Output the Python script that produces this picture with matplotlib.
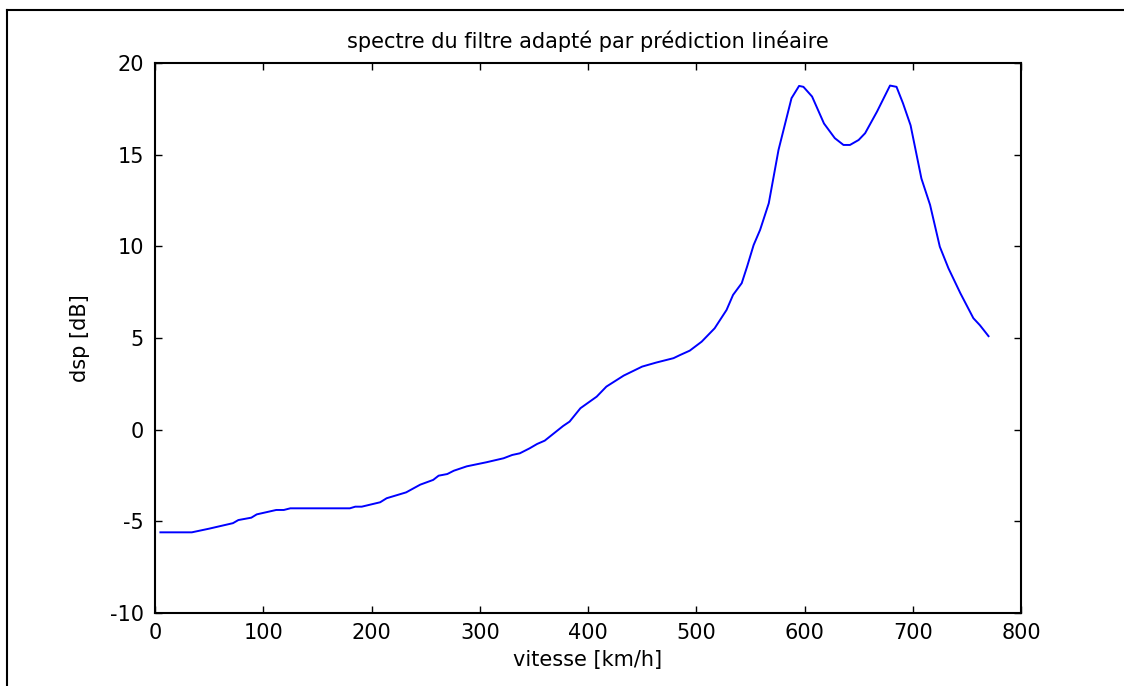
import matplotlib
matplotlib.use("Agg")
import matplotlib.pyplot as plt
from matplotlib.lines import Line2D

vitesse = [5, 34, 50, 72, 77, 89, 94, 112, 119, 125, 180, 185, 191, 208, 214, 232, 245,
           257, 262, 270, 276, 288, 306, 322, 330, 337, 346, 353, 360, 377, 383, 393,
           408, 417, 433, 450, 463, 479, 485, 494, 505, 517, 528, 534, 542, 547, 553,
           559, 567, 576, 588, 595, 599, 607, 618, 628, 636, 642, 650, 656, 667, 679,
           685, 691, 698, 708, 716, 725, 733, 744, 756, 762, 770]
dsp = [-5.6, -5.6, -5.4, -5.1, -4.93, -4.8, -4.62, -4.38, -4.38, -4.29, -4.29, -4.2, -4.2,
       -3.96, -3.74, -3.42, -3.0, -2.74, -2.51, -2.42, -2.24, -2.0, -1.78, -1.56, -1.38,
       -1.29, -1.02, -0.78, -0.6, 0.2, 0.44, 1.17, 1.8, 2.35, 2.95, 3.44, 3.66, 3.9,
       4.07, 4.31, 4.8, 5.53, 6.53, 7.35, 7.99, 8.9, 10.07, 10.9, 12.35, 15.26, 18.08,
       18.75, 18.7, 18.17, 16.7, 15.9, 15.53, 15.53, 15.8, 16.17, 17.35, 18.77, 18.7,
       17.8, 16.6, 13.7, 12.26, 9.98, 8.8, 7.44, 6.08, 5.7, 5.1]

xticks = [0, 100, 200, 300, 400, 500, 600, 700, 800]
yticks = [-10, -5, 0, 5, 10, 15, 20]

plt.rcParams['font.family'] = ['DejaVu Sans']
plt.rcParams['axes.unicode_minus'] = False

W, H = 1124, 686
fig = plt.figure(figsize=(W / 100, H / 100), dpi=100)
ax = fig.add_axes([155 / W, 1 - 613 / H, (1021 - 155) / W, (613 - 63) / H])

ax.plot(vitesse, dsp, color='#0000ff', linewidth=1.4)
ax.set_xlim(0, 800)
ax.set_ylim(-10, 20)
ax.set_xticks(xticks)
ax.set_yticks(yticks)
ax.tick_params(direction='in', length=5, width=1, top=True, right=True,
               labelsize=15, colors='black')
ax.tick_params(axis='x', pad=7)
ax.tick_params(axis='y', pad=8)
for s in ax.spines.values():
    s.set_linewidth(1.5)

ax.set_title('spectre du filtre adapté par prédiction linéaire', fontsize=15, pad=11)
ax.set_xlabel('vitesse [km/h]', fontsize=15, labelpad=5)
ax.set_ylabel('dsp [dB]', fontsize=15, labelpad=14)

# outer frame (top and left edges visible)
fig.add_artist(Line2D([7 / W, 7 / W], [0, 1 - 10 / H], transform=fig.transFigure,
                      color='black', linewidth=1.5))
fig.add_artist(Line2D([7 / W, 1], [1 - 10 / H, 1 - 10 / H], transform=fig.transFigure,
                      color='black', linewidth=1.5))

fig.savefig('out.png', dpi=100)
